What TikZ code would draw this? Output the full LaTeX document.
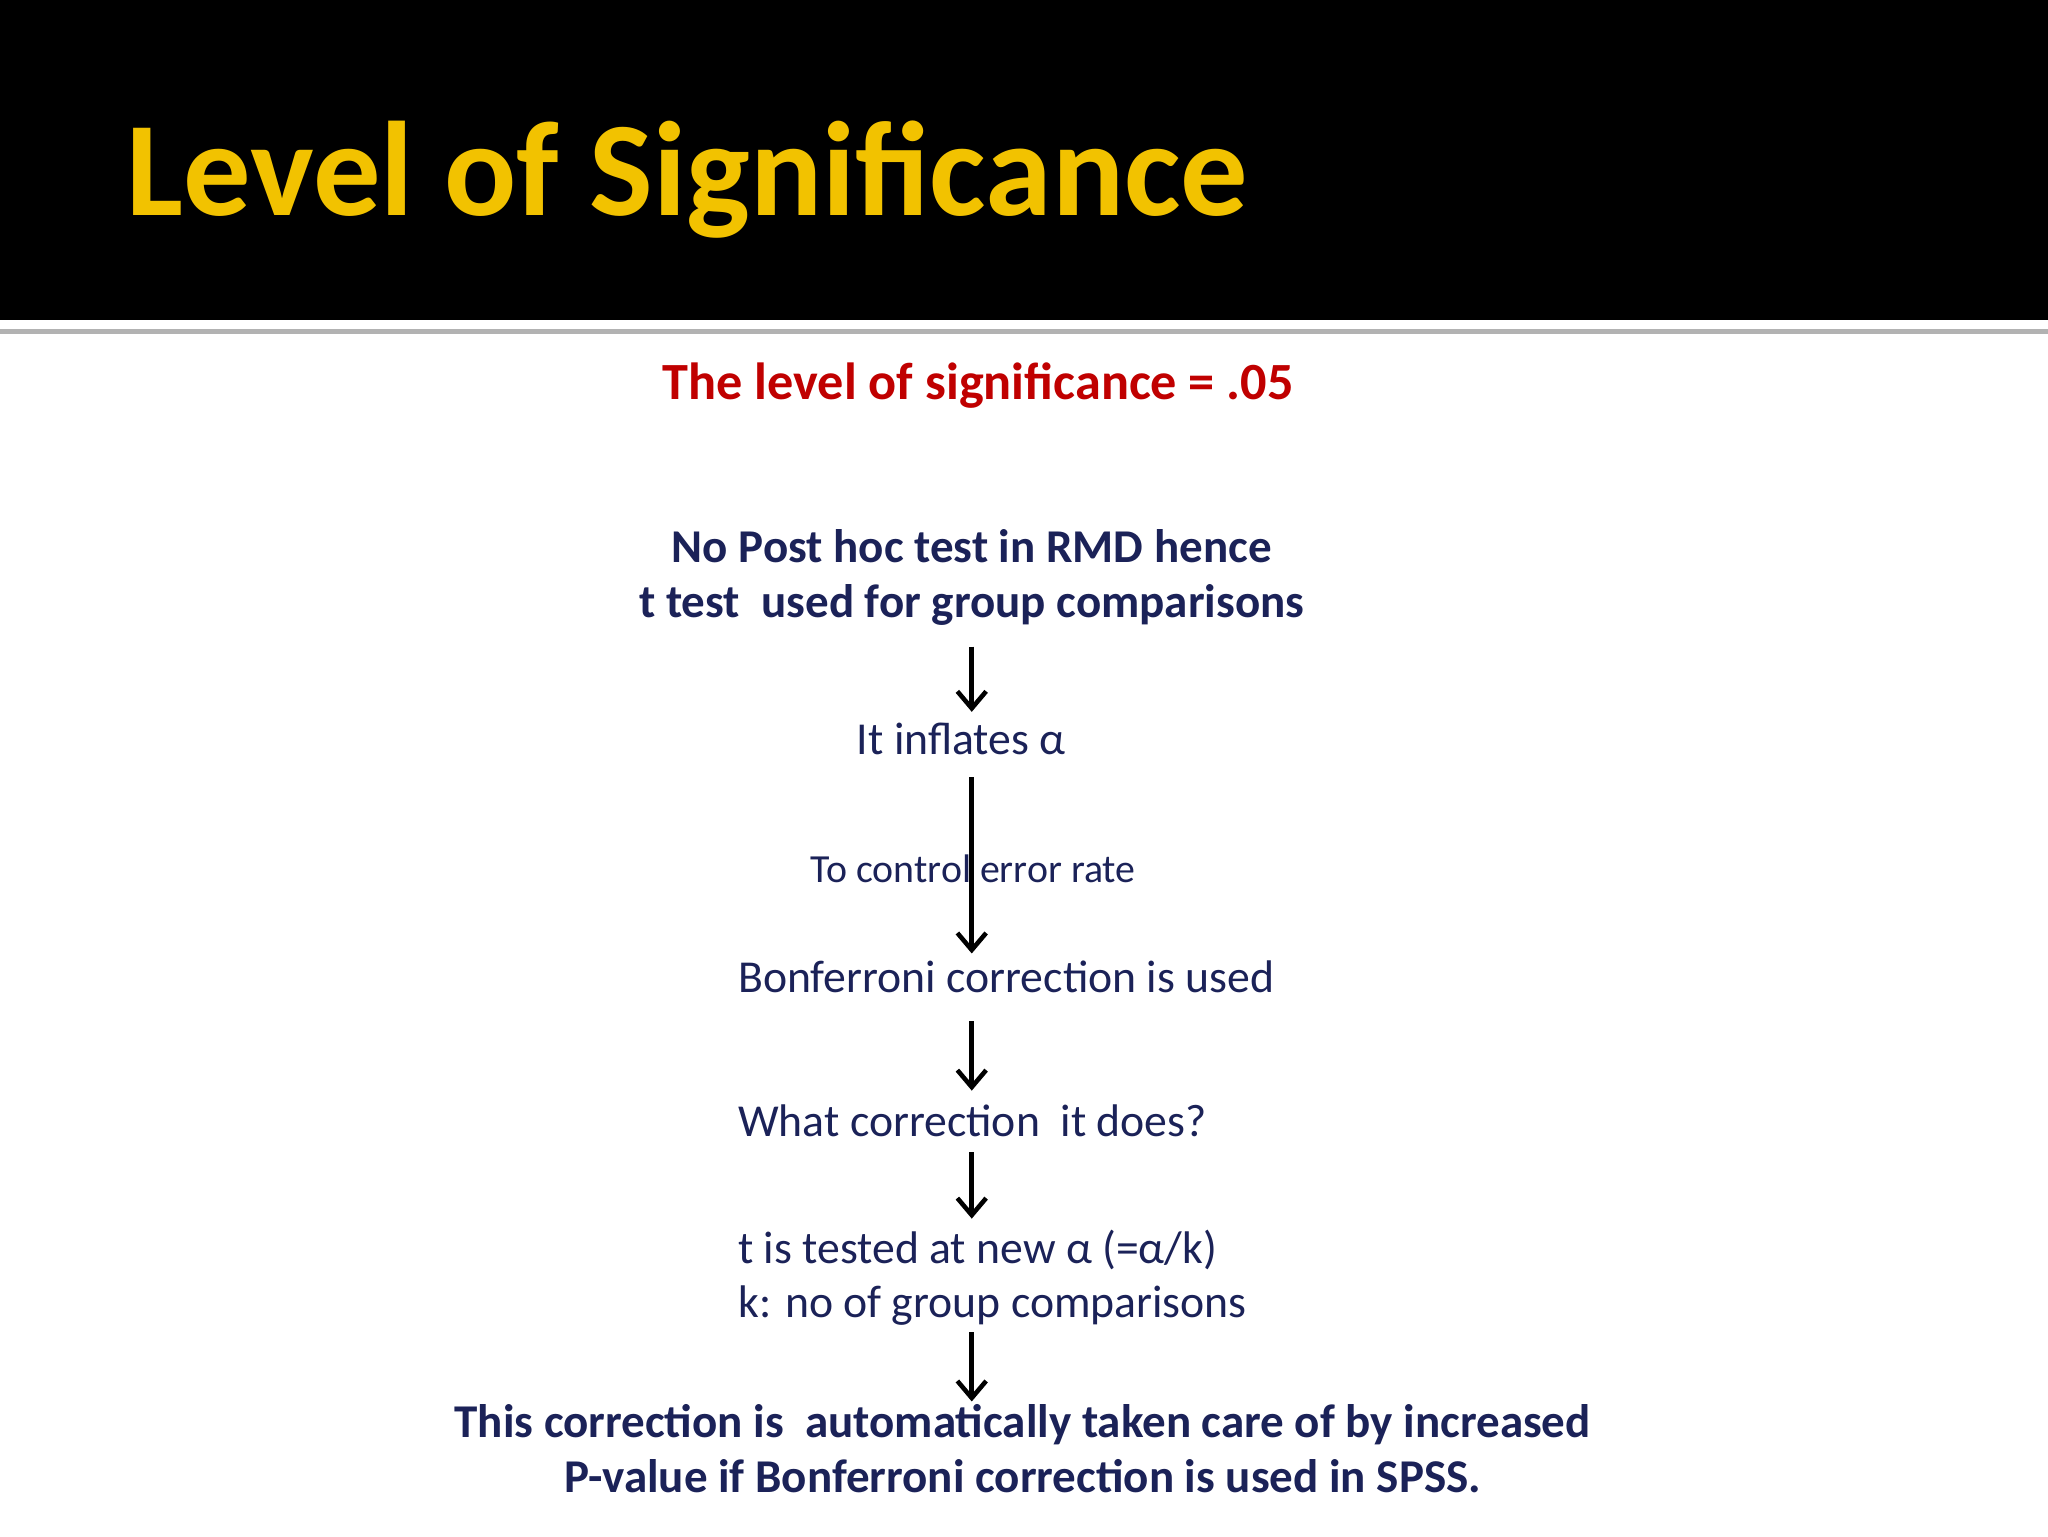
\documentclass[tikz,border=0pt]{standalone}
\usepackage{fontspec}
\setmainfont{Carlito}
\usetikzlibrary{arrows.meta}
\definecolor{navy}{HTML}{1B2258}
\definecolor{redt}{HTML}{C00000}
\definecolor{gold}{HTML}{F2C200}
\tikzset{
 body/.style={inner sep=0pt,text=navy,font=\fontsize{35}{42}\selectfont},
 bbody/.style={inner sep=0pt,text=navy,font=\bfseries\fontsize{36}{42}\selectfont,align=center},
 arr/.style={line width=3.5pt,-{Straight Barb[length=13pt,width=22pt,line width=3.5pt]}}
}
\begin{document}
\begin{tikzpicture}[x=1pt,y=-1pt]
\useasboundingbox (0,0) rectangle (1568,1176);
\fill[white] (0,0) rectangle (1568,1176);
\fill[black] (0,0) rectangle (1568,245);
\fill[gray!60] (0,252) rectangle (1568,256);
\node[inner sep=0pt,anchor=base west,text=gold,font=\bfseries\fontsize{103}{110}\selectfont] (title) at (97,165) {Level of Significance};
\node[inner sep=0pt,anchor=base,text=redt,font=\bfseries\fontsize{40}{46}\selectfont] (sub) at (749,306) {The level of significance = .05};
\node[bbody,anchor=center] (a) at (744,442) {No Post hoc test in RMD hence\\t test\ \ used for group comparisons};
\node[body,anchor=base] (b) at (736,578) {It inflates α};
\node[body,anchor=base,font=\fontsize{30.5}{36}\selectfont] (lbl) at (745,676) {To control error rate};
\node[body,anchor=base west] (c) at (565,760) {Bonferroni correction is used};
\node[body,anchor=base west] (d) at (565,870) {What correction\ \ it does?};
\node[body,anchor=base west,align=left,font=\fontsize{35}{42}\selectfont] (e) at (565,1009) {t is tested at new α (=α/k)\\k: no of group comparisons};
\node[bbody,anchor=center] (f) at (783,1109) {This correction is\ \ automatically taken care of by increased\\P-value if Bonferroni correction is used in SPSS.};
\coordinate (a1) at (744,495); \coordinate (a2) at (744,545);
\coordinate (b1) at (744,595); \coordinate (b2) at (744,730);
\coordinate (c1) at (744,782); \coordinate (c2) at (744,835);
\coordinate (d1) at (744,882); \coordinate (d2) at (744,933);
\coordinate (e1) at (744,1020); \coordinate (e2) at (744,1073);
\draw[arr] (a1) -- (a2);
\draw[arr] (b1) -- (b2);
\draw[arr] (c1) -- (c2);
\draw[arr] (d1) -- (d2);
\draw[arr] (e1) -- (e2);
\end{tikzpicture}
\end{document}
